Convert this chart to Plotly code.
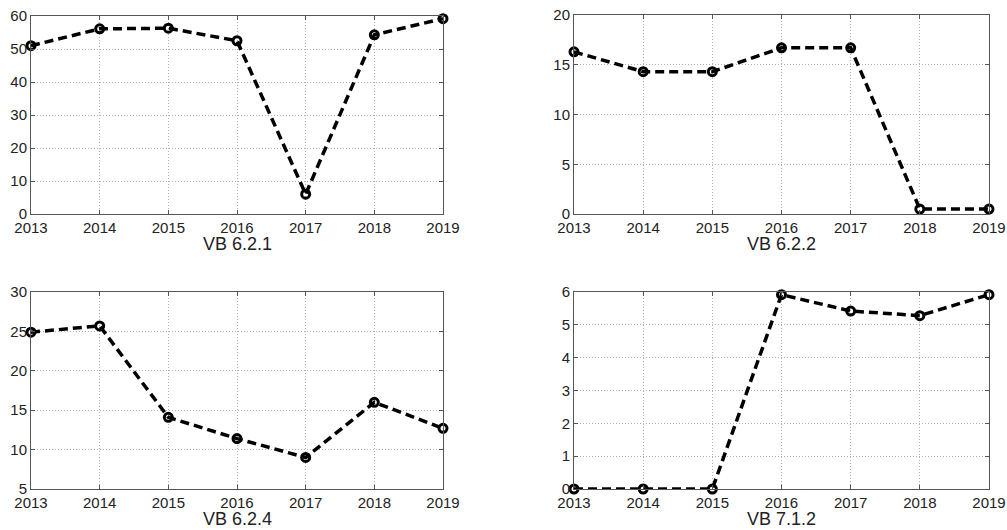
import plotly.graph_objects as go

years = [2013, 2014, 2015, 2016, 2017, 2018, 2019]
vb_621 = [51.0, 56.1, 56.3, 52.5, 6.0, 54.3, 59.2]
vb_622 = [16.3, 14.3, 14.3, 16.7, 16.7, 0.5, 0.5]
vb_624 = [24.9, 25.7, 14.1, 11.4, 9.0, 16.0, 12.7]
vb_712 = [0.0, 0.0, 0.0, 5.92, 5.42, 5.28, 5.92]
titles = ["VB 6.2.1", "VB 6.2.2", "VB 6.2.4", "VB 7.1.2"]
series = [vb_621, vb_622, vb_624, vb_712]
yranges = [[0, 60], [0, 20], [5, 30], [0, 6]]
ydticks = [10, 5, 5, 1]

W, H = 1007, 530
# panel pixel boxes: left, right, top, bottom
boxes = [(31, 443, 16, 214), (574, 989, 15, 214), (31, 443, 292, 489), (574, 989, 292, 489)]

fig = go.Figure()
font_fam = "Liberation Sans, Arial, sans-serif"
for i, (vals, title, yr, dt, box) in enumerate(zip(series, titles, yranges, ydticks, boxes)):
    n = "" if i == 0 else str(i + 1)
    fig.add_trace(go.Scatter(
        x=years, y=vals, mode="lines+markers",
        line=dict(color="black", width=3.5, dash="9px,5px"),
        marker=dict(symbol="circle-open", size=8, color="black", line=dict(width=3, color="black")),
        cliponaxis=False, showlegend=False,
        xaxis="x" + n, yaxis="y" + n,
    ))
    l, r, t, b = box
    axcommon = dict(
        showgrid=True, gridcolor="#b0b0b0", griddash="1px,2px", gridwidth=1,
        showline=True, linecolor="#555555", linewidth=1, mirror="allticks",
        ticks="inside", ticklen=4, tickcolor="#555555",
        tickfont=dict(family=font_fam, size=15, color="#222222"),
        zeroline=False, fixedrange=True, automargin=False,
    )
    fig.update_layout(**{
        "xaxis" + n: dict(domain=[l / W, r / W], range=[2013, 2019], tickmode="array",
                          tickvals=years, ticktext=[str(y) for y in years],
                          anchor="y" + n, ticklabelstandoff=0, **axcommon),
        "yaxis" + n: dict(domain=[1 - b / H, 1 - t / H], range=yr, dtick=dt, tick0=0,
                          anchor="x" + n, ticklabelstandoff=0, **axcommon),
    })
    fig.add_annotation(
        x=(l + r) / 2 / W, y=1 - (b + 30) / H, xref="paper", yref="paper",
        text=title, showarrow=False, yanchor="middle", xanchor="center",
        font=dict(family=font_fam, size=18, color="#222222"),
    )

fig.update_layout(
    width=W, height=H, margin=dict(l=0, r=0, t=0, b=0),
    paper_bgcolor="white", plot_bgcolor="white",
)
fig.write_html("out.html", config={"displayModeBar": False},
               post_script="document.body.style.margin='0';document.body.style.overflow='hidden';")
